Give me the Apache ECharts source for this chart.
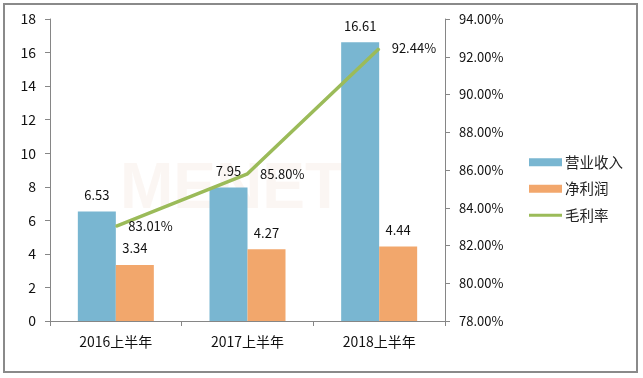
<!DOCTYPE html>
<html><head><meta charset="utf-8">
<script src="https://cdn.jsdelivr.net/npm/echarts@6/dist/echarts.min.js"></script>
<style>html,body{margin:0;padding:0;background:#fff}#c{width:643px;height:378px}</style>
</head><body><div id="c"></div>
<script>
const categories = ['2016上半年', '2017上半年', '2018上半年'];
const revenue = [6.53, 7.95, 16.61];
const netProfit = [3.34, 4.27, 4.44];
const grossMargin = [83.01, 85.80, 92.44];
const seriesNames = ['营业收入', '净利润', '毛利率'];

const font = '"Noto Sans CJK SC", "Noto Sans", sans-serif';
const chart = echarts.init(document.getElementById('c'));
chart.setOption({
  animation: false,
  textStyle: { fontFamily: font },
  graphic: [
    { type: 'rect', shape: { x: 4, y: 4, width: 633, height: 368 }, style: { fill: 'none', stroke: '#8a8a8a', lineWidth: 2 }, z: -1 },
    { type: 'text', left: 120, top: 158, style: { text: 'MENET', fontSize: 64, fontWeight: 'bold', fill: 'rgba(235,215,200,0.22)', fontFamily: 'Liberation Sans' }, z: -1 }
  ],
  grid: { left: 50, right: 198, top: 19, bottom: 57, containLabel: false },
  legend: {
    orient: 'vertical', left: 524, top: 150, itemWidth: 33, itemHeight: 8, itemGap: 12,
    textStyle: { fontSize: 14.5, color: '#222', fontFamily: font, padding: [0, 0, 0, -2] },
    data: [
      { name: seriesNames[0], icon: 'rect' },
      { name: seriesNames[1], icon: 'rect' },
      { name: seriesNames[2], icon: 'path://M0,0h33v3h-33z' }
    ]
  },
  xAxis: {
    type: 'category', data: categories,
    axisLine: { lineStyle: { color: '#868686', width: 1 } },
    axisTick: { show: true, length: 5, alignWithLabel: false, lineStyle: { color: '#868686' } },
    axisLabel: { fontSize: 14, color: '#111', margin: 14 }
  },
  yAxis: [
    { type: 'value', min: 0, max: 18, interval: 2,
      axisLine: { show: true, lineStyle: { color: '#868686' } },
      axisTick: { show: true, length: 5, lineStyle: { color: '#868686' } },
      splitLine: { show: false },
      axisLabel: { fontSize: 14, color: '#111', margin: 14 } },
    { type: 'value', min: 78, max: 94, interval: 2, position: 'right',
      axisLine: { show: true, lineStyle: { color: '#868686' } },
      axisTick: { show: true, length: 5, lineStyle: { color: '#868686' } },
      splitLine: { show: false },
      axisLabel: { fontSize: 13, color: '#111', margin: 14, formatter: v => v.toFixed(2) + '%' } }
  ],
  series: [
    { name: seriesNames[0], type: 'bar', data: revenue, barWidth: 38, barGap: '0%',
      itemStyle: { color: '#79b6d1' },
      label: { show: true, position: 'top', fontSize: 13, color: '#111', distance: 10 } },
    { name: seriesNames[1], type: 'bar', data: netProfit, barWidth: 38,
      itemStyle: { color: '#f2a76c' },
      label: { show: true, position: 'top', fontSize: 13, color: '#111', distance: 10 } },
    { name: seriesNames[2], type: 'line', yAxisIndex: 1, symbol: 'circle', symbolSize: 1, showSymbol: true, z: 5,
      lineStyle: { color: '#9bbb59', width: 3.5 }, itemStyle: { color: '#9bbb59' },
      data: grossMargin,
      label: { show: true, position: 'right', distance: 12, fontSize: 13, color: '#111', formatter: p => p.value.toFixed(2) + '%' } }
  ]
});
</script></body></html>
